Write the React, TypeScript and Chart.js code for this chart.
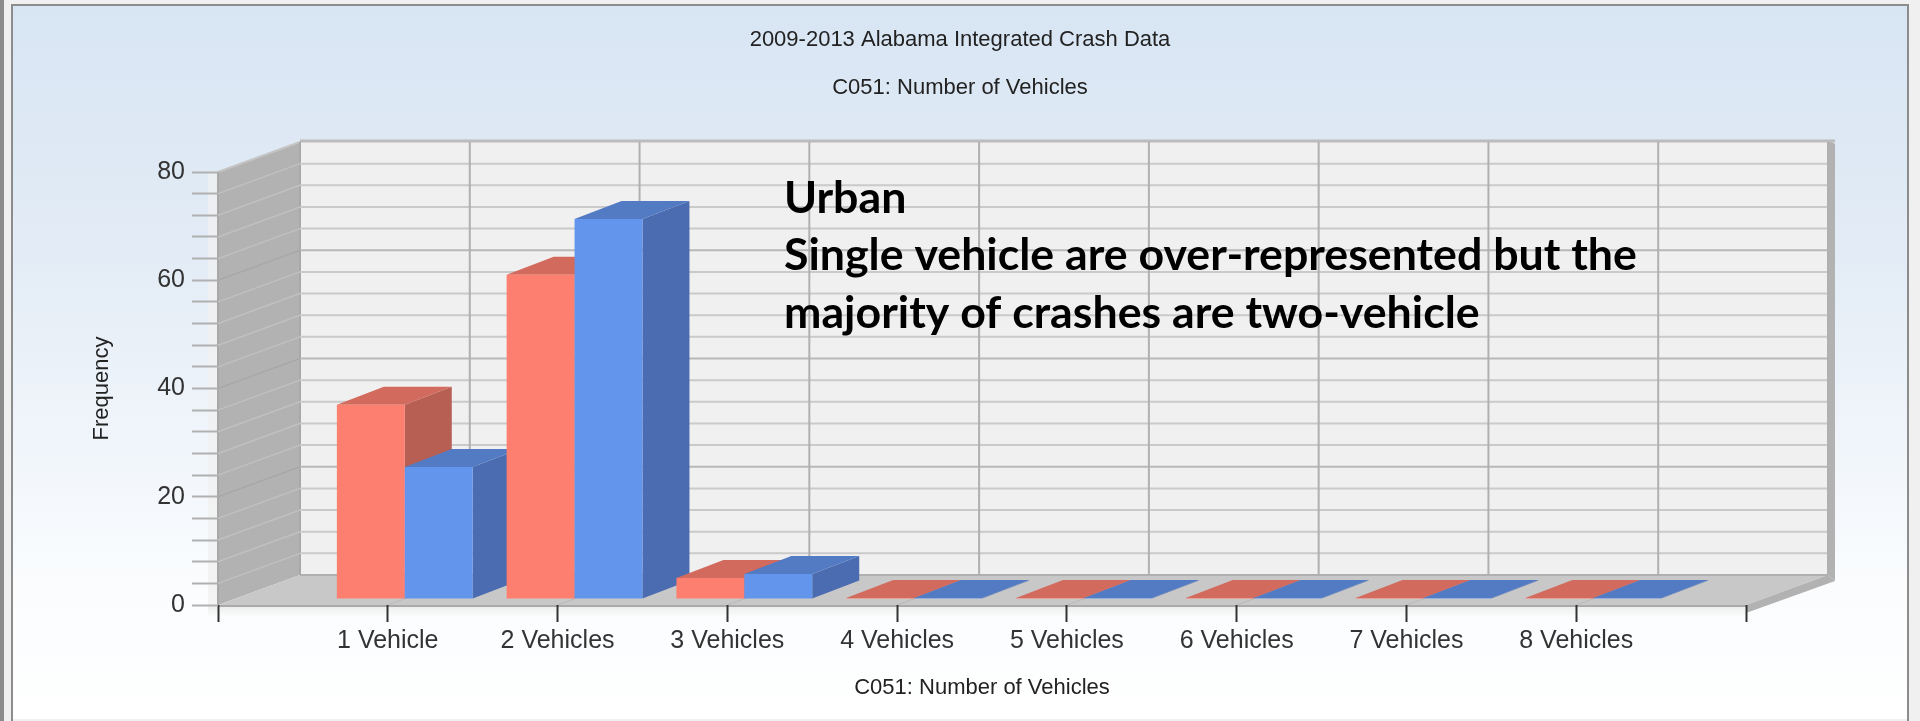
import React, { useEffect, useRef } from "react";
import { Chart, registerables } from "chart.js";

Chart.register(...registerables);

const categories = ["1 Vehicle", "2 Vehicles", "3 Vehicles", "4 Vehicles", "5 Vehicles", "6 Vehicles", "7 Vehicles", "8 Vehicles"];
const redValues = [35.9, 59.9, 3.9, 0.2, 0.2, 0.2, 0.2, 0.2];
const blueValues = [24.4, 70.2, 4.6, 0.2, 0.2, 0.2, 0.2, 0.2];
const titleText = "2009-2013 Alabama Integrated Crash Data";
const subtitleText = "C051: Number of Vehicles";
const xAxisTitle = "C051: Number of Vehicles";
const yAxisTitle = "Frequency";
const noteLines = ["Urban", "Single vehicle are over-represented but the", "majority of crashes are two-vehicle"];

const W = 1920;
const H = 721;
const AREA = { left: 218, right: 1746, top: 172, bottom: 605 };
const DEPTH = { x: 82, y: -30 };
const BAR_SHIFT = { x: 17, y: -6 };
const BAR_DEPTH = { x: 47, y: -18 };
const FACE = [
  { top: "#d26a5d", side: "#b85f53" },
  { top: "#527bc4", side: "#4b6cb0" },
];

function poly(ctx: CanvasRenderingContext2D, pts: number[][], fill: string) {
  ctx.fillStyle = fill;
  ctx.beginPath();
  pts.forEach((p, i) => (i ? ctx.lineTo(p[0], p[1]) : ctx.moveTo(p[0], p[1])));
  ctx.closePath();
  ctx.fill();
}

function line(ctx: CanvasRenderingContext2D, x1: number, y1: number, x2: number, y2: number, color: string, width: number) {
  ctx.strokeStyle = color;
  ctx.lineWidth = width;
  ctx.beginPath();
  ctx.moveTo(x1, y1);
  ctx.lineTo(x2, y2);
  ctx.stroke();
}

const framePlugin = {
  id: "frame3d",
  beforeDraw(chart: any) {
    const { ctx, chartArea: a, scales } = chart;
    ctx.save();
    // window chrome and panel background
    ctx.fillStyle = "#f0f0f0";
    ctx.fillRect(0, 0, W, H);
    const bg = ctx.createLinearGradient(0, 6, 0, H);
    bg.addColorStop(0, "#d8e5f3");
    bg.addColorStop(0.35, "#e3ecf6");
    bg.addColorStop(0.8, "#fafcfe");
    bg.addColorStop(1, "#ffffff");
    ctx.fillStyle = bg;
    ctx.fillRect(12, 5, 1896, 714);
    ctx.fillStyle = "#8c8c8c";
    ctx.fillRect(0, 0, 4, H);
    ctx.fillRect(11, 4, 2, H - 4);
    ctx.fillRect(11, 4, 1898, 2);
    ctx.fillRect(1907, 4, 2, H - 4);

    const bx = DEPTH.x;
    const by = DEPTH.y;
    const x0 = a.left;
    const x1 = a.right;
    const yT = a.top;
    const yB = a.bottom;

    // pale shadow band round the front plane
    ctx.fillStyle = "rgba(240,240,240,0.75)";
    ctx.fillRect(x0 - 10, yT, 10, yB - yT);
    const shade = ctx.createLinearGradient(0, yB, 0, yB + 12);
    shade.addColorStop(0, "rgba(235,235,235,1)");
    shade.addColorStop(1, "rgba(235,235,235,0)");
    ctx.fillStyle = shade;
    ctx.fillRect(x0 - 10, yB, x1 - x0 + 10, 12);

    // back wall
    poly(ctx, [[x0 + bx, yT + by], [x1 + bx, yT + by], [x1 + bx, yB + by], [x0 + bx, yB + by]], "#f0f0f0");
    // left wall
    poly(ctx, [[x0, yT], [x0 + bx, yT + by], [x0 + bx, yB + by], [x0, yB]], "#b2b2b2");
    // floor
    poly(ctx, [[x0, yB], [x0 + bx, yB + by], [x1 + bx, yB + by], [x1, yB]], "#c8c8c8");
    // wall thickness on the right, top and under the floor
    poly(ctx, [[x1 + bx, yT + by - 2], [x1 + bx + 7, yT + by + 2], [x1 + bx + 7, yB + by + 6], [x1 + bx, yB + by]], "#b2b2b2");
    poly(ctx, [[x1, yB], [x1 + bx, yB + by], [x1 + bx + 7, yB + by + 6], [x1, yB + 8]], "#b2b2b2");
    line(ctx, x0 - 0, yT, x0 + bx, yT + by, "#c4c4c4", 2);
    line(ctx, x0 + bx, yT + by - 1, x1 + bx + 7, yT + by - 1, "#bcbcbc", 3);
    line(ctx, x0, yB + 1, x1, yB + 1, "#aaaaaa", 2);
    line(ctx, x0 + bx, yB + by, x1 + bx, yB + by, "#b0b0b0", 2);
    line(ctx, x0, yT, x0, yB, "#a8a8a8", 2);
    line(ctx, x0 + bx, yT + by, x0 + bx, yB + by, "#a8a8a8", 2);

    // gridlines projected from the y and x scales onto the walls
    const yScale = scales.y;
    yScale.ticks.forEach((t: any) => {
      if (t.value === 0 || t.value === 80) return;
      const y = yScale.getPixelForValue(t.value);
      const major = t.value % 20 === 0;
      line(ctx, x0, y, x0 + bx, y + by, major ? "#a8a8a8" : "#c0c0c0", 1.5);
      line(ctx, x0 + bx, y + by, x1 + bx, y + by, major ? "#b8b8b8" : "#cacaca", 2);
    });
    const xScale = scales.x;
    xScale.ticks.forEach((_: any, i: number) => {
      if (i === 0) return;
      const x = xScale.getPixelForTick(i);
      line(ctx, x + bx, yT + by, x + bx, yB + by, "#b0b0b0", 2);
      if (i < xScale.ticks.length - 1) line(ctx, x, yB, x + bx * 0.4, yB + by * 0.4, "#b9b9b9", 1);
    });
    ctx.restore();
  },
  beforeDatasetDraw() {
    return false;
  },
  afterDatasetsDraw(chart: any) {
    const { ctx } = chart;
    ctx.save();
    ctx.translate(BAR_SHIFT.x, BAR_SHIFT.y);
    const metas = chart.data.datasets.map((_: any, i: number) => chart.getDatasetMeta(i));
    chart.data.labels.forEach((_: any, idx: number) => {
      metas.forEach((meta: any, s: number) => {
        const bar = meta.data[idx];
        const value = chart.data.datasets[s].data[idx];
        if (!bar || value === null) return;
        const { x, y, base, width } = bar;
        const l = x - width / 2;
        const r = x + width / 2;
        const dx = BAR_DEPTH.x;
        const dy = BAR_DEPTH.y;
        poly(ctx, [[r, y], [r + dx, y + dy], [r + dx, base + dy], [r, base]], FACE[s].side);
        poly(ctx, [[l, y], [l + dx, y + dy], [r + dx, y + dy], [r, y]], FACE[s].top);
        bar.draw(ctx, chart.chartArea);
      });
    });
    ctx.restore();

    ctx.save();
    ctx.fillStyle = "#000000";
    ctx.font = "bold 44.7px Lato";
    ctx.textBaseline = "alphabetic";
    ctx.textAlign = "left";
    noteLines.forEach((t, i) => ctx.fillText(t, 784, 212.5 + i * 57.5));
    ctx.restore();
  },
};

export default function App() {
  const ref = useRef<HTMLCanvasElement>(null);
  useEffect(() => {
    if (!ref.current) return;
    const chart = new Chart(ref.current, {
      type: "bar",
      data: {
        labels: ["", ...categories, ""],
        datasets: [
          { label: "Series 1", data: [null, ...redValues, null], backgroundColor: "#fd7f6f", borderWidth: 0, categoryPercentage: 0.8, barPercentage: 1 },
          { label: "Series 2", data: [null, ...blueValues, null], backgroundColor: "#6495ed", borderWidth: 0, categoryPercentage: 0.8, barPercentage: 1 },
        ],
      },
      options: {
        responsive: false,
        animation: false,
        layout: { padding: 0 },
        plugins: {
          legend: { display: false },
          tooltip: { enabled: false },
          title: {
            display: true,
            text: titleText,
            color: "#222222",
            font: { family: "Liberation Sans", size: 22, weight: "normal" },
            padding: { top: 27, bottom: 0 },
          },
          subtitle: {
            display: true,
            text: subtitleText,
            color: "#222222",
            font: { family: "Liberation Sans", size: 22, weight: "normal" },
            padding: { top: 21.4, bottom: 70.8 },
          },
        },
        scales: {
          x: {
            type: "category",
            offset: false,
            afterFit: (s: any) => {
              s.height = H - AREA.bottom;
            },
            grid: { display: true, offset: false, drawOnChartArea: false, drawTicks: true, tickLength: 17, tickColor: "#333333", tickWidth: 2 },
            border: { display: false },
            ticks: { autoSkip: false, maxRotation: 0, minRotation: 0, padding: 4, color: "#333333", font: { family: "Liberation Sans", size: 25 } },
            title: {
              display: true,
              text: xAxisTitle,
              color: "#222222",
              font: { family: "Liberation Sans", size: 22 },
              padding: { top: 0, bottom: 19.8 },
            },
          },
          y: {
            min: 0,
            max: 80,
            afterFit: (s: any) => {
              s.width = AREA.left;
            },
            grid: { display: true, drawOnChartArea: false, drawTicks: true, tickLength: 26, tickColor: "#b0b0b0", tickWidth: 2 },
            border: { display: false },
            ticks: {
              stepSize: 4,
              autoSkip: false,
              padding: 7,
              color: "#333333",
              font: { family: "Liberation Sans", size: 25 },
              callback: (v: any) => (Number(v) % 20 === 0 ? String(v) : ""),
            },
            title: {
              display: true,
              text: yAxisTitle,
              color: "#222222",
              font: { family: "Liberation Sans", size: 22 },
              padding: { top: 88.8, bottom: 0 },
            },
          },
          yRight: {
            position: "right",
            afterFit: (s: any) => {
              s.width = W - AREA.right;
            },
            grid: { display: false },
            border: { display: false },
            ticks: { display: false },
          },
        },
      },
      plugins: [framePlugin],
    } as any);
    return () => chart.destroy();
  }, []);
  return (
    <div style={{ position: "absolute", left: 0, top: 0, width: W, height: H, overflow: "hidden" }}>
      <canvas ref={ref} width={W} height={H} style={{ display: "block", width: W, height: H }} />
    </div>
  );
}
